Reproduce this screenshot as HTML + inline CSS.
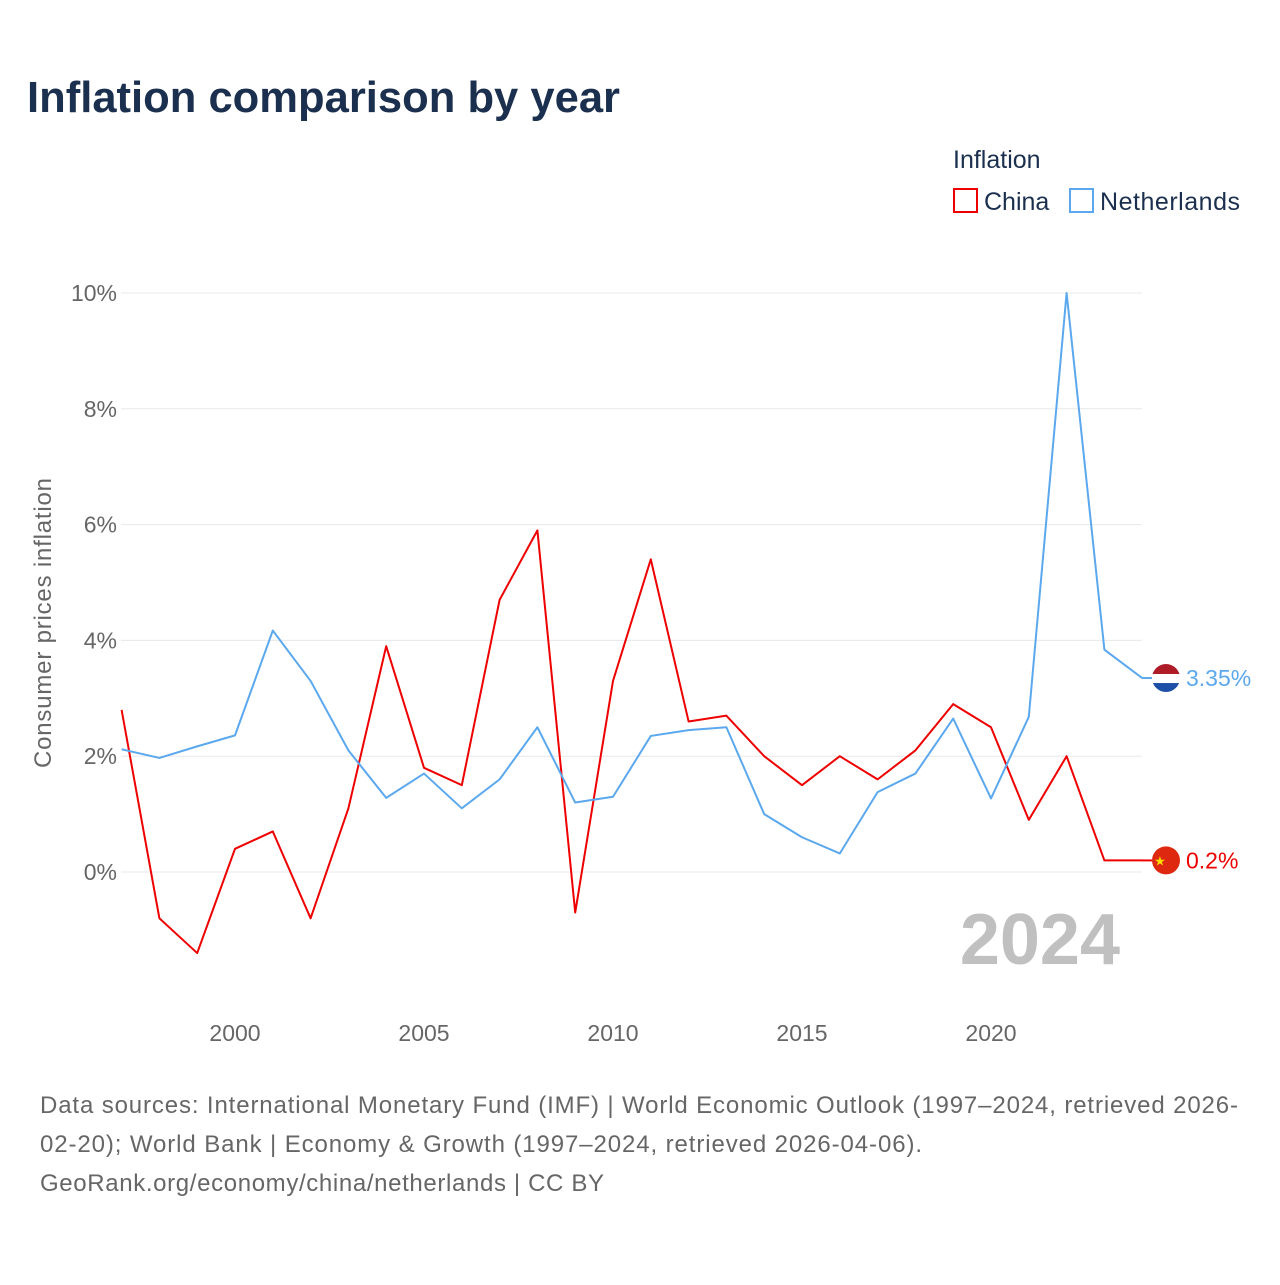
<!DOCTYPE html>
<html><head><meta charset="utf-8"><style>
body{margin:0;background:#fff;font-family:"Liberation Sans",sans-serif;}
svg text{font-family:"Liberation Sans",sans-serif;}
</style></head><body>
<svg width="1280" height="1280" viewBox="0 0 1280 1280" xmlns="http://www.w3.org/2000/svg" id="chart">
<text x="27" y="112" font-size="44" font-weight="bold" fill="#1b2f4e" textLength="593" lengthAdjust="spacingAndGlyphs">Inflation comparison by year</text>
<g>
<text x="953" y="168" font-size="25" fill="#1b2f4e">Inflation</text>
<g><rect x="954" y="189" width="23" height="23" fill="none" stroke="#ee0000" stroke-width="2"/><text x="984" y="210" font-size="25" fill="#1b2f4e">China</text></g>
<g><rect x="1070" y="189" width="23" height="23" fill="none" stroke="#5ba8ee" stroke-width="2"/><text x="1100" y="210" font-size="25" fill="#1b2f4e" textLength="140">Netherlands</text></g>
</g>
<text transform="translate(51,623) rotate(-90)" text-anchor="middle" font-size="24" fill="#666" textLength="290">Consumer prices inflation</text>
<g id="grid"></g><g id="yticks"></g><g id="xticks"></g>
<text x="1120" y="964" text-anchor="end" font-size="72" font-weight="bold" fill="#c0c0c0">2024</text>
<g id="series"></g>
<g id="endlabels"></g>
<g font-size="24" fill="#666">
<text x="40" y="1113" textLength="1198">Data sources: International Monetary Fund (IMF) | World Economic Outlook (1997–2024, retrieved 2026-</text>
<text x="40" y="1152" textLength="882">02-20); World Bank | Economy &amp; Growth (1997–2024, retrieved 2026-04-06).</text>
<text x="40" y="1191" textLength="564">GeoRank.org/economy/china/netherlands | CC BY</text>
</g>
</svg>
<script>
const years=[1997,1998,1999,2000,2001,2002,2003,2004,2005,2006,2007,2008,2009,2010,2011,2012,2013,2014,2015,2016,2017,2018,2019,2020,2021,2022,2023,2024];
const china=[2.8,-0.8,-1.4,0.4,0.7,-0.8,1.1,3.9,1.8,1.5,4.7,5.9,-0.7,3.3,5.4,2.6,2.7,2.0,1.5,2.0,1.6,2.1,2.9,2.5,0.9,2.0,0.2,0.2];
const netherlands=[2.12,1.97,2.17,2.36,4.17,3.3,2.1,1.28,1.7,1.1,1.6,2.5,1.2,1.3,2.35,2.45,2.5,1.0,0.6,0.32,1.38,1.7,2.65,1.27,2.68,10.0,3.84,3.35];
const yTicks=[0,2,4,6,8,10];
const xTicks=[2000,2005,2010,2015,2020];
const NS="http://www.w3.org/2000/svg";
const xs=y=>121.6+(y-1997)*37.8;
const ys=v=>872-v*57.9;
function mk(tag,attrs,parent,txt){const e=document.createElementNS(NS,tag);for(const k in attrs)e.setAttribute(k,attrs[k]);if(txt!=null)e.textContent=txt;parent.appendChild(e);return e;}
const grid=document.getElementById('grid'),yt=document.getElementById('yticks'),xt=document.getElementById('xticks');
yTicks.forEach(v=>{
 const l=mk('line',{x1:121,x2:1142,y1:ys(v),y2:ys(v),stroke:'#e8e8e8','stroke-width':1},grid);
 
 
 const t=mk('text',{x:117,y:ys(v)+8,'text-anchor':'end','font-size':23,fill:'#666'},yt,v+'%');
 
 
});
xTicks.forEach(y=>{
 const t=mk('text',{x:xs(y),y:1041,'text-anchor':'middle','font-size':23,fill:'#666'},xt,String(y));
 
 
});
const sg=document.getElementById('series');
[[china,'#ee0000','china-line'],[netherlands,'#5ba8ee','netherlands-line']].forEach(([d,c,n])=>{
 const p=mk('polyline',{points:d.map((v,i)=>xs(years[i])+','+ys(v)).join(' '),fill:'none',stroke:c,'stroke-width':2,'stroke-linejoin':'round'},sg);
 
 
});
const eg=document.getElementById('endlabels');
const last=years.length-1;
let ny=ys(netherlands[last]);
let f=mk('g',{},eg);


mk('line',{x1:1142,x2:1152,y1:ny,y2:ny,stroke:'#5ba8ee','stroke-width':2},f);
mk('clipPath',{id:'cn1'},f);mk('circle',{cx:1166,cy:ny,r:14},f.lastChild);
mk('rect',{x:1152,y:ny-14,width:28,height:10,fill:'#ae1c28','clip-path':'url(#cn1)'},f);
mk('rect',{x:1152,y:ny-4,width:28,height:9,fill:'#fff','clip-path':'url(#cn1)'},f);
mk('rect',{x:1152,y:ny+5,width:28,height:10,fill:'#1e4fa8','clip-path':'url(#cn1)'},f);
let t1=mk('text',{x:1186,y:ny+8,'font-size':23,fill:'#5ba8ee'},eg,netherlands[last]+'%');


let cy=ys(china[last]);
let f2=mk('g',{},eg);


mk('line',{x1:1142,x2:1152,y1:cy,y2:cy,stroke:'#ee0000','stroke-width':2},f2);
mk('circle',{cx:1166,cy:cy,r:14,fill:'#de2910'},f2);
mk('text',{x:1160,y:cy+5,'font-size':13,fill:'#ffde00','text-anchor':'middle'},f2,'★');
let t2=mk('text',{x:1186,y:cy+8,'font-size':23,fill:'#ee0000'},eg,china[last]+'%');


</script>
</body></html>
